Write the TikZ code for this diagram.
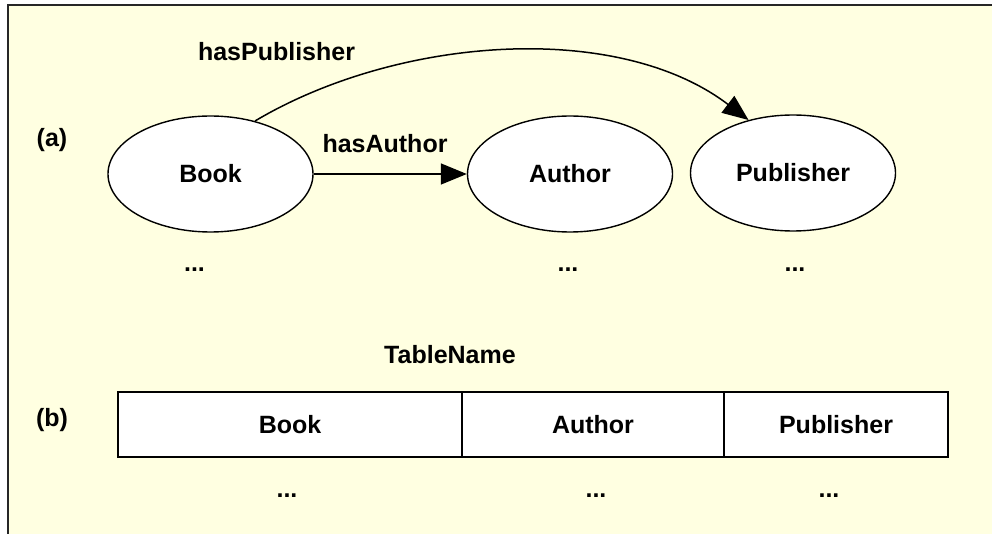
\documentclass[tikz,border=0pt]{standalone}
\usepackage{fontspec}
\setmainfont{Liberation Sans}
\usetikzlibrary{shapes.geometric,arrows.meta}
\definecolor{bgyellow}{RGB}{255,255,225}
\tikzset{
  ell/.style={ellipse,draw=black,fill=white,line width=1.4pt,minimum width=205pt,minimum height=116pt,inner sep=0pt,font=\fontsize{25}{30}\selectfont\bfseries},
  cell/.style={rectangle,draw=black,fill=white,line width=1.4pt,minimum height=65pt,inner sep=0pt,font=\fontsize{25}{30}\selectfont\bfseries},
  lbl/.style={anchor=base,inner sep=0pt,font=\fontsize{25}{30}\selectfont\bfseries},
  arr/.style={line width=1.5pt,-{Triangle[length=26pt,width=21pt]}}
}
\begin{document}
\begin{tikzpicture}[x=1pt,y=-1pt]
\useasboundingbox (0,0) rectangle (992,534);
\fill[bgyellow] (8,5) rectangle (992,534);
\draw[line width=1.8pt,black!85] (8.3,534) -- (8.3,4.7) -- (992,4.7);
% (a)
\node[lbl] (la) at (52,147) {(a)};
\node[ell] (book) at (210.5,174) {Book};
\node[ell] (author) at (570,174) {Author};
\node[ell] (pub) at (793,173) {Publisher};
\node[lbl] (hasauthor) at (385,153) {hasAuthor};
\node[lbl] (haspub) at (276.5,61) {hasPublisher};
\draw[arr] (book.east) -- (author.west);
\draw[arr] (book.50) .. controls (397,36.5) and (617,20) .. (pub.130);
\node[lbl] (d1) at (194.5,272) {...};
\node[lbl] (d2) at (568,272) {...};
\node[lbl] (d3) at (795,272) {...};
% (b)
\node[lbl] (lb) at (52,426) {(b)};
\node[lbl] (tname) at (450,363) {TableName};
\node[cell,minimum width=344pt] (tbook) at (290,424.5) {Book};
\node[cell,minimum width=262pt] (tauthor) at (593,424.5) {Author};
\node[cell,minimum width=224pt] (tpub) at (836,424.5) {Publisher};
\node[lbl] (e1) at (287,497) {...};
\node[lbl] (e2) at (596,497) {...};
\node[lbl] (e3) at (829,497) {...};
\end{tikzpicture}
\end{document}
